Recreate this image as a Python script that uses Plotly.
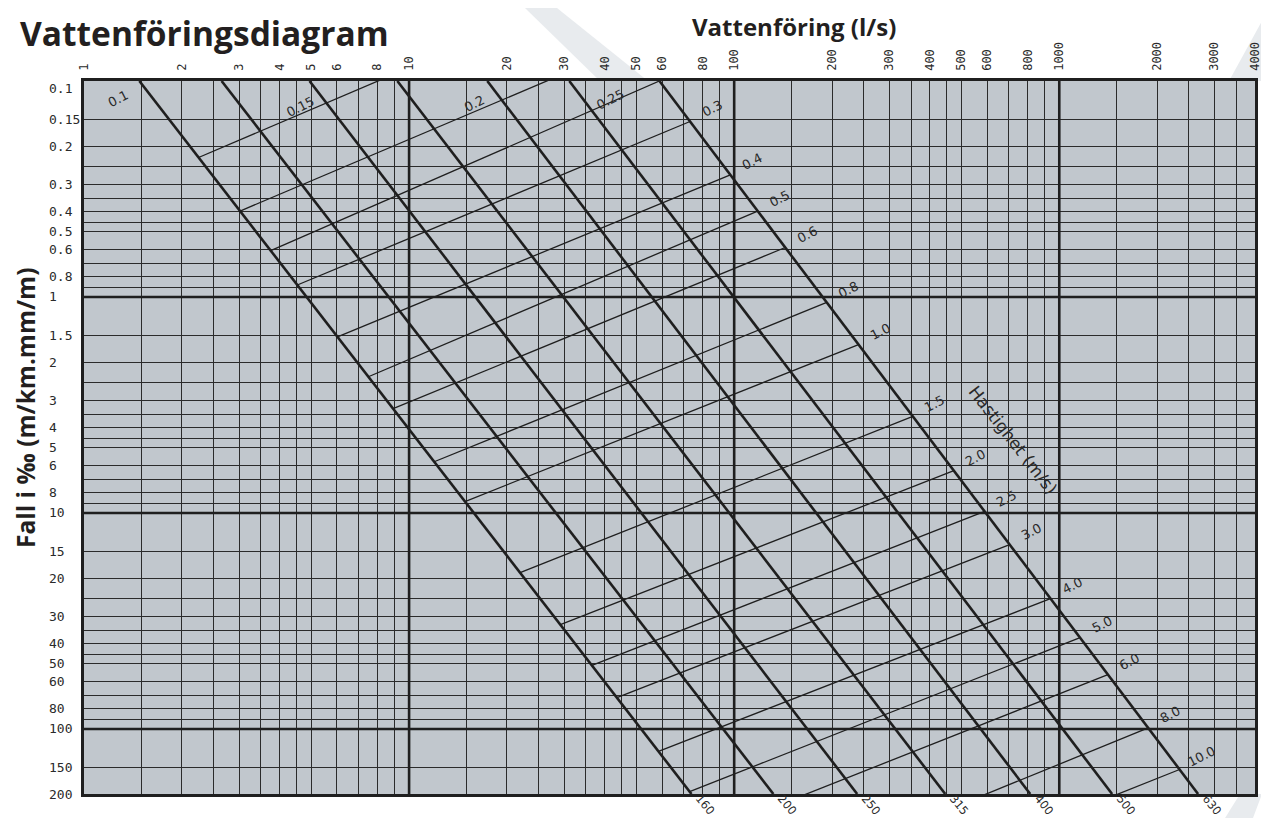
import math
import plotly.graph_objects as go

# ---------------- data ----------------
grid_mantissas = [1, 1.5, 2, 2.5, 3, 3.5, 4, 4.5, 5, 6, 7, 8, 9]
flow_decades = [1, 10, 100, 1000]
slope_decades = [0.1, 1, 10, 100]
flow_min, flow_max = 1, 4000          # l/s
slope_min, slope_max = 0.1, 200       # promille

flow_tick_labels = [1, 2, 3, 4, 5, 6, 8, 10, 20, 30, 40, 50, 60, 80, 100, 200, 300,
                    400, 500, 600, 800, 1000, 2000, 3000, 4000]
slope_tick_labels = [0.1, 0.15, 0.2, 0.3, 0.4, 0.5, 0.6, 0.8, 1, 1.5, 2, 3, 4, 5, 6, 8,
                     10, 15, 20, 30, 40, 50, 60, 80, 100, 150, 200]

# pipe (diameter) lines: flow at the top edge (0.1 promille) and bottom edge (200 promille)
pipe_diameters = [160, 200, 250, 315, 400, 500, 630]
pipe_flow_at_min_slope = [1.48, 2.65, 4.94, 9.2, 17.4, 31.1, 58.9]
pipe_flow_at_max_slope = [73.9, 132, 239, 446, 814, 1454, 2673]

# velocity lines: slope where each meets the smallest (160) and largest (630) pipe line
velocities = [0.1, 0.15, 0.2, 0.25, 0.3, 0.4, 0.5, 0.6, 0.8, 1.0, 1.5, 2.0, 2.5, 3.0,
              4.0, 5.0, 6.0, 8.0, 10.0]
vel_slope_on_smallest = [0.1, 0.226, 0.40, 0.61, 0.88, 1.53, 2.34, 3.29, 5.79, 8.85,
                         18.9, 32.9, 50.8, 71.6, 127, 195, 290, 530, 800]
vel_slope_on_largest = [0.017, 0.038, 0.068, 0.10, 0.154, 0.272, 0.40, 0.59, 1.06, 1.66,
                        3.57, 6.37, 9.84, 14.0, 24.9, 37.8, 56, 98.9, 154]

# ---------------- layout constants ----------------
OFF = 8                      # page body margin of the browser
W, H = 1261, 810
ML, MR, MT, MB = 76, 14, 73, 24
PW, PH = W - ML - MR, H - MT - MB

def paper_x(sx):             # screen pixel -> paper
    return (sx - OFF - ML) / PW

def paper_y(sy):
    return (H - MB - (sy - OFF)) / PH

# label positions for velocity lines that leave through the top edge (data coords)
top_label_pos = {0.1: (1.28, 0.121), 0.15: (4.65, 0.1315), 0.2: (15.9, 0.127), 0.25: (41.6, 0.122)}

INK = "#1f1f1f"
BG = "#c1c7cd"
MONO = "DejaVu Sans Mono"
HAND = "DejaVu Sans"
BOLD = "Open Sans"
LBL = "#2a2a2a"

def grid_values(decades, vmax):
    vals = []
    for d in decades:
        for m in grid_mantissas:
            v = round(m * d, 6)
            if v <= vmax * 1.0001:
                vals.append(v)
    return vals

grid_x = grid_values(flow_decades, flow_max)
grid_y = grid_values(slope_decades, slope_max)

def fmt(v):
    return "%g" % v

ticktext_x = [fmt(v) if any(abs(v - t) < 1e-9 for t in flow_tick_labels) else "" for v in grid_x]

def pipe_flow(i, s):
    lt, lb = math.log10(pipe_flow_at_min_slope[i]), math.log10(pipe_flow_at_max_slope[i])
    f = (math.log10(s) - math.log10(slope_min)) / (math.log10(slope_max) - math.log10(slope_min))
    return 10 ** (lt + f * (lb - lt))

fig = go.Figure()

# thick decade lines
for d in flow_decades[1:]:
    fig.add_trace(go.Scatter(x=[d, d], y=[slope_min, slope_max], mode="lines",
                             line=dict(color=INK, width=2.6), hoverinfo="skip", showlegend=False))
for d in slope_decades[1:]:
    fig.add_trace(go.Scatter(x=[flow_min, flow_max], y=[d, d], mode="lines",
                             line=dict(color=INK, width=2.6), hoverinfo="skip", showlegend=False))

# pipe lines
for i, dmm in enumerate(pipe_diameters):
    fig.add_trace(go.Scatter(x=[pipe_flow_at_min_slope[i], pipe_flow_at_max_slope[i]],
                             y=[slope_min, slope_max], mode="lines",
                             line=dict(color=INK, width=2.6), name=f"{dmm} mm",
                             showlegend=False))

# velocity lines
last = len(pipe_diameters) - 1
annotations = []
for v, s1, s2 in zip(velocities, vel_slope_on_smallest, vel_slope_on_largest):
    q1, q2 = pipe_flow(0, s1), pipe_flow(last, s2)
    fig.add_trace(go.Scatter(x=[q1, q2], y=[s1, s2], mode="lines",
                             line=dict(color=INK, width=1.3), name=f"{v} m/s",
                             showlegend=False))
    label = "%.1f" % v if v >= 0.3 or v in (0.1, 0.2) else "%g" % v
    if v in top_label_pos:
        qx, sy = top_label_pos[v]
        annotations.append(dict(x=math.log10(qx), y=math.log10(sy), xref="x", yref="y",
                                text=label, showarrow=False, textangle=-27,
                                xanchor="center", yanchor="middle",
                                font=dict(family=HAND, size=13, color=LBL)))
    else:
        annotations.append(dict(x=math.log10(q2), y=math.log10(s2), xref="x", yref="y",
                                text=label, showarrow=False, textangle=-27,
                                xanchor="center", yanchor="middle",
                                xshift=22, yshift=13,
                                font=dict(family=HAND, size=13, color=LBL)))

# pipe diameter labels below the bottom edge
for dmm, qb in zip(pipe_diameters, pipe_flow_at_max_slope):
    annotations.append(dict(x=math.log10(qb), y=0, xref="x", yref="paper", text=str(dmm),
                            showarrow=False, textangle=50, xshift=14, yshift=-11,
                            xanchor="center", yanchor="middle",
                            font=dict(family=HAND, size=11.5, color=LBL)))

# y tick labels, left aligned
for k, s in enumerate(slope_tick_labels):
    annotations.append(dict(x=0, y=math.log10(s), xref="paper", yref="y", text=fmt(s),
                            showarrow=False, xanchor="left", yanchor="middle", xshift=-37,
                            yshift=(-7 if k == 0 else 0),
                            font=dict(family=MONO, size=13, color=LBL)))

# titles
annotations += [
    dict(x=paper_x(18), y=paper_y(8), xref="paper", yref="paper", xanchor="left",
         yanchor="top", text="<b>Vattenföringsdiagram</b>", showarrow=False,
         font=dict(family=BOLD, size=33.5, color="#231f20")),
    dict(x=paper_x(794), y=paper_y(8), xref="paper", yref="paper", xanchor="center",
         yanchor="top", text="<b>Vattenföring (l/s)</b>", showarrow=False,
         font=dict(family=BOLD, size=24, color="#231f20")),
    dict(x=paper_x(26), y=paper_y(408), xref="paper", yref="paper", textangle=-90,
         xanchor="center", yanchor="middle",
         text="<b>Fall i ‰ (m/km.mm/m)</b>", showarrow=False,
         font=dict(family=BOLD, size=24.5, color="#231f20")),
    dict(x=paper_x(1013), y=paper_y(440), xref="paper", yref="paper", textangle=52,
         xanchor="center", yanchor="middle",
         text="Hastighet (m/s)", showarrow=False,
         font=dict(family=HAND, size=17, color=LBL)),
]

# faint background decoration (outside the plot area)
def path(pts):
    return "M " + " L ".join(f"{paper_x(a):.4f},{paper_y(b):.4f}" for a, b in pts) + " Z"

deco = "#e8ebee"
shapes = [
    dict(type="path", xref="paper", yref="paper", layer="below", line=dict(width=0),
         fillcolor=deco, path=path([(525, 8), (557, 8), (648, 81), (600, 81)])),
    dict(type="path", xref="paper", yref="paper", layer="below", line=dict(width=0),
         fillcolor=deco, path=path([(1269, 8), (1269, 81), (1229, 81)])),
    dict(type="path", xref="paper", yref="paper", layer="below", line=dict(width=0),
         fillcolor=deco, path=path([(1225, 818), (1253, 818), (1262, 794), (1240, 794)])),
]

axis_common = dict(type="log", showgrid=True, gridcolor="#2b2b2b", gridwidth=1.2,
                   showline=True, mirror=True, linecolor=INK, linewidth=2.5,
                   zeroline=False, ticks="", automargin=False, fixedrange=True)

fig.update_layout(
    template="none",
    width=W, height=H,
    margin=dict(l=ML, r=MR, t=MT, b=MB, pad=0),
    paper_bgcolor="white", plot_bgcolor=BG,
    showlegend=False,
    xaxis=dict(**axis_common, side="top",
               range=[math.log10(flow_min), math.log10(flow_max)],
               tickmode="array", tickvals=grid_x, ticktext=ticktext_x,
               tickangle=-90, ticklabelstandoff=5,
               tickfont=dict(family=MONO, size=12, color=LBL)),
    yaxis=dict(**axis_common,
               range=[math.log10(slope_max), math.log10(slope_min)],
               tickmode="array", tickvals=grid_y, showticklabels=False),
    annotations=annotations,
    shapes=shapes,
)

fig.write_html("out.html")
